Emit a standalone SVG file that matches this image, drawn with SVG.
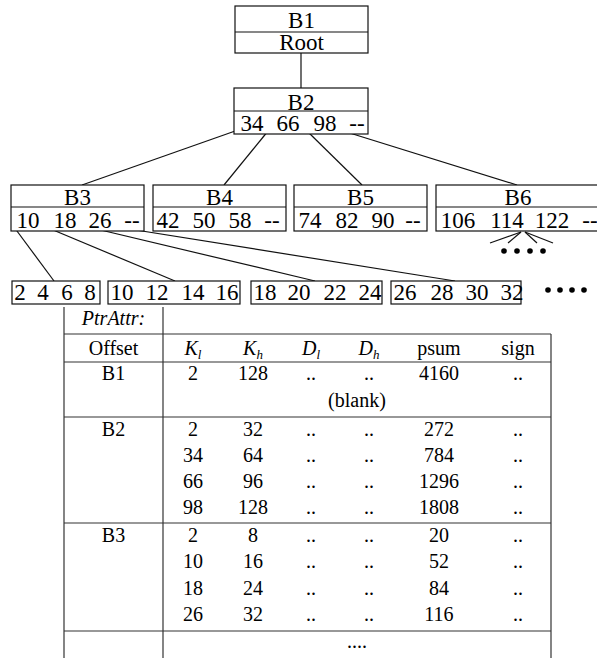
<svg xmlns="http://www.w3.org/2000/svg" width="597" height="658" viewBox="0 0 597 658" font-family="'Liberation Serif', 'DejaVu Serif', 'Times New Roman', Times, serif">
  <style>
    .box { fill: #fff; stroke: #111; stroke-width: 1.2; }
    .div { stroke: #111; stroke-width: 1.2; }
    .t { font-family: 'Liberation Serif', 'DejaVu Serif', 'Times New Roman', Times, serif; font-size: 23px; fill: #000; text-anchor: middle; }
    .tb { font-family: 'Liberation Serif', 'DejaVu Serif', 'Times New Roman', Times, serif; font-size: 20px; fill: #000; text-anchor: middle; }
    .it { font-style: italic; }
    .sub { font-size: 13px; font-style: italic; }
    .edge { stroke: #111; stroke-width: 1.2; fill: none; }
    .grid { stroke: #333; stroke-width: 1.2; }
  </style>
  <rect width="597" height="658" fill="#fff"/>

  <!-- connectors -->
  <g id="connectors">
    <line class="edge" x1="301" y1="53" x2="301" y2="88"/>
    <line class="edge" x1="238" y1="130" x2="82" y2="185"/>
    <line class="edge" x1="268" y1="131" x2="224" y2="185"/>
    <line class="edge" x1="306" y1="130" x2="362" y2="185"/>
    <line class="edge" x1="340" y1="130" x2="517" y2="185"/>
    <line class="edge" x1="14" y1="227" x2="54" y2="281"/>
    <line class="edge" x1="46" y1="227" x2="175" y2="281"/>
    <line class="edge" x1="88" y1="227" x2="315" y2="281"/>
    <line class="edge" x1="117" y1="227" x2="455" y2="281"/>
    <line class="edge" x1="521" y1="232" x2="490" y2="243"/>
    <line class="edge" x1="521" y1="232" x2="508" y2="243"/>
    <line class="edge" x1="525" y1="232" x2="537" y2="243"/>
    <line class="edge" x1="525" y1="232" x2="553" y2="243"/>
  </g>

  <!-- ellipsis dots -->
  <g id="more-b6" fill="#000">
    <circle cx="504" cy="251" r="2.8"/>
    <circle cx="517" cy="251" r="2.8"/>
    <circle cx="530" cy="251" r="2.8"/>
    <circle cx="543" cy="251" r="2.8"/>
  </g>
  <g id="more-leaves" fill="#000">
    <circle cx="548" cy="290" r="2.8"/>
    <circle cx="560" cy="290" r="2.8"/>
    <circle cx="572" cy="290" r="2.8"/>
    <circle cx="584" cy="290" r="2.8"/>
  </g>

  <!-- tree nodes -->
  <g id="B1">
    <rect class="box" x="235" y="6" width="133" height="47"/>
    <line class="div" x1="235" y1="32" x2="368" y2="32"/>
    <text class="t" x="301.5" y="28">B1</text>
    <text class="t" x="301.5" y="50">Root</text>
  </g>
  <g id="B2">
    <rect class="box" x="234" y="88" width="134" height="46"/>
    <line class="div" x1="234" y1="111" x2="368" y2="111"/>
    <text class="t" x="301" y="110">B2</text>
    <text class="t" x="252" y="131">34</text>
    <text class="t" x="288" y="131">66</text>
    <text class="t" x="325" y="131">98</text>
    <text class="t" x="357" y="131">--</text>
  </g>
  <g id="B3">
    <rect class="box" x="11" y="185" width="133" height="46"/>
    <line class="div" x1="11" y1="207" x2="144" y2="207"/>
    <text class="t" x="77.5" y="205">B3</text>
    <text class="t" x="28" y="228">10</text>
    <text class="t" x="65" y="228">18</text>
    <text class="t" x="100" y="228">26</text>
    <text class="t" x="132" y="228">--</text>
  </g>
  <g id="B4">
    <rect class="box" x="153" y="185" width="133" height="46"/>
    <line class="div" x1="153" y1="207" x2="286" y2="207"/>
    <text class="t" x="219.5" y="205">B4</text>
    <text class="t" x="168" y="228">42</text>
    <text class="t" x="204" y="228">50</text>
    <text class="t" x="240" y="228">58</text>
    <text class="t" x="272" y="228">--</text>
  </g>
  <g id="B5">
    <rect class="box" x="294" y="185" width="133" height="46"/>
    <line class="div" x1="294" y1="207" x2="427" y2="207"/>
    <text class="t" x="360.5" y="205">B5</text>
    <text class="t" x="310" y="228">74</text>
    <text class="t" x="347" y="228">82</text>
    <text class="t" x="383" y="228">90</text>
    <text class="t" x="413" y="228">--</text>
  </g>
  <g id="B6">
    <rect class="box" x="436" y="185" width="165" height="46"/>
    <line class="div" x1="436" y1="207" x2="601" y2="207"/>
    <text class="t" x="518" y="205">B6</text>
    <text class="t" x="458" y="228">106</text>
    <text class="t" x="507" y="228">114</text>
    <text class="t" x="552" y="228">122</text>
    <text class="t" x="590" y="228">--</text>
  </g>

  <!-- leaf blocks -->
  <g id="leaf1">
    <rect class="box" x="12" y="281" width="88" height="23"/>
    <text class="t" x="20" y="300">2</text>
    <text class="t" x="43" y="300">4</text>
    <text class="t" x="67" y="300">6</text>
    <text class="t" x="90" y="300">8</text>
  </g>
  <g id="leaf2">
    <rect class="box" x="108" y="281" width="132" height="23"/>
    <text class="t" x="122" y="300">10</text>
    <text class="t" x="157" y="300">12</text>
    <text class="t" x="193" y="300">14</text>
    <text class="t" x="227" y="300">16</text>
  </g>
  <g id="leaf3">
    <rect class="box" x="251" y="281" width="131" height="23"/>
    <text class="t" x="265" y="300">18</text>
    <text class="t" x="299" y="300">20</text>
    <text class="t" x="335" y="300">22</text>
    <text class="t" x="370" y="300">24</text>
  </g>
  <g id="leaf4">
    <rect class="box" x="391" y="281" width="130" height="23"/>
    <text class="t" x="405" y="300">26</text>
    <text class="t" x="442" y="300">28</text>
    <text class="t" x="477" y="300">30</text>
    <text class="t" x="512" y="300">32</text>
  </g>

  <!-- PtrAttr table -->
  <g id="ptrattr-table">
    <g id="grid">
      <line class="grid" x1="64" y1="307" x2="64" y2="658"/>
      <line class="grid" x1="163" y1="307" x2="163" y2="658"/>
      <line class="grid" x1="551" y1="334" x2="551" y2="658"/>
      <line class="grid" x1="64" y1="334" x2="551" y2="334"/>
      <line class="grid" x1="64" y1="362" x2="551" y2="362"/>
      <line class="grid" x1="64" y1="417" x2="551" y2="417"/>
      <line class="grid" x1="64" y1="523" x2="551" y2="523"/>
      <line class="grid" x1="64" y1="631" x2="551" y2="631"/>
    </g>
    <text class="tb it" x="113.5" y="325">PtrAttr:</text>

    <g id="header">
      <text class="tb" x="113.5" y="355">Offset</text>
      <text class="tb it" x="193" y="355">K<tspan class="sub" dy="4">l</tspan></text>
      <text class="tb it" x="253" y="355">K<tspan class="sub" dy="4">h</tspan></text>
      <text class="tb it" x="311" y="355">D<tspan class="sub" dy="4">l</tspan></text>
      <text class="tb it" x="369" y="355">D<tspan class="sub" dy="4">h</tspan></text>
      <text class="tb" x="439" y="355">psum</text>
      <text class="tb" x="518" y="355">sign</text>
    </g>

    <g id="row-B1">
      <text class="tb" x="113.5" y="380">B1</text>
      <text class="tb" x="193" y="380">2</text>
      <text class="tb" x="253" y="380">128</text>
      <text class="tb" x="311" y="380">..</text>
      <text class="tb" x="369" y="380">..</text>
      <text class="tb" x="439" y="380">4160</text>
      <text class="tb" x="518" y="380">..</text>
      <text class="tb" x="357" y="407">(blank)</text>
    </g>

    <g id="row-B2">
      <text class="tb" x="113.5" y="436">B2</text>
      <text class="tb" x="193" y="436">2</text>
      <text class="tb" x="253" y="436">32</text>
      <text class="tb" x="311" y="436">..</text>
      <text class="tb" x="369" y="436">..</text>
      <text class="tb" x="439" y="436">272</text>
      <text class="tb" x="518" y="436">..</text>

      <text class="tb" x="193" y="462">34</text>
      <text class="tb" x="253" y="462">64</text>
      <text class="tb" x="311" y="462">..</text>
      <text class="tb" x="369" y="462">..</text>
      <text class="tb" x="439" y="462">784</text>
      <text class="tb" x="518" y="462">..</text>

      <text class="tb" x="193" y="488">66</text>
      <text class="tb" x="253" y="488">96</text>
      <text class="tb" x="311" y="488">..</text>
      <text class="tb" x="369" y="488">..</text>
      <text class="tb" x="439" y="488">1296</text>
      <text class="tb" x="518" y="488">..</text>

      <text class="tb" x="193" y="514">98</text>
      <text class="tb" x="253" y="514">128</text>
      <text class="tb" x="311" y="514">..</text>
      <text class="tb" x="369" y="514">..</text>
      <text class="tb" x="439" y="514">1808</text>
      <text class="tb" x="518" y="514">..</text>
    </g>

    <g id="row-B3">
      <text class="tb" x="113.5" y="542">B3</text>
      <text class="tb" x="193" y="542">2</text>
      <text class="tb" x="253" y="542">8</text>
      <text class="tb" x="311" y="542">..</text>
      <text class="tb" x="369" y="542">..</text>
      <text class="tb" x="439" y="542">20</text>
      <text class="tb" x="518" y="542">..</text>

      <text class="tb" x="193" y="568">10</text>
      <text class="tb" x="253" y="568">16</text>
      <text class="tb" x="311" y="568">..</text>
      <text class="tb" x="369" y="568">..</text>
      <text class="tb" x="439" y="568">52</text>
      <text class="tb" x="518" y="568">..</text>

      <text class="tb" x="193" y="595">18</text>
      <text class="tb" x="253" y="595">24</text>
      <text class="tb" x="311" y="595">..</text>
      <text class="tb" x="369" y="595">..</text>
      <text class="tb" x="439" y="595">84</text>
      <text class="tb" x="518" y="595">..</text>

      <text class="tb" x="193" y="621">26</text>
      <text class="tb" x="253" y="621">32</text>
      <text class="tb" x="311" y="621">..</text>
      <text class="tb" x="369" y="621">..</text>
      <text class="tb" x="439" y="621">116</text>
      <text class="tb" x="518" y="621">..</text>
    </g>

    <text class="tb" x="357" y="648">....</text>
  </g>
</svg>
